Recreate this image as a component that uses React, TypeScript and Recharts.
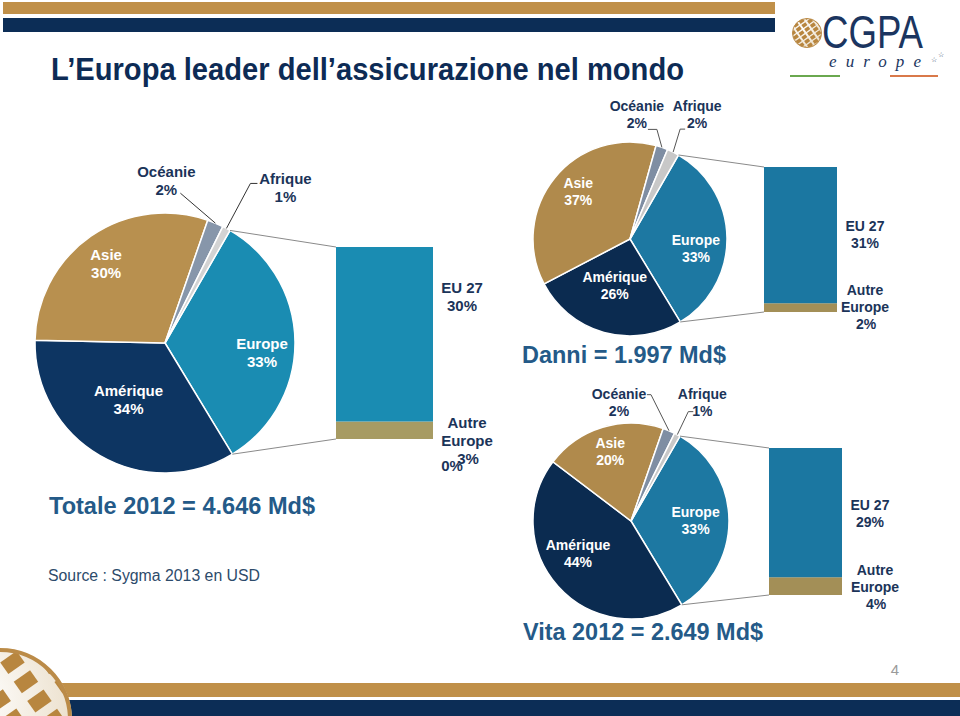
import { PieChart, Pie, Cell, BarChart, Bar, XAxis, YAxis } from "recharts";

// slices, clockwise from the Europe slice
const regions = ["Europe", "Amérique", "Asie", "Océanie", "Afrique"];
const totalShares = [33, 34, 30, 2, 1];
const danniShares = [33, 26, 37, 2, 2];
const vitaShares = [33, 44, 20, 2, 1];

// Europe split, bottom segment first
const europeParts = ["Autre Europe", "EU 27"];
const totalEurope = [3, 30];
const danniEurope = [2, 31];
const vitaEurope = [4, 29];

const NAVY = "#0c2d56";
const GOLD = "#c09049";
const TXT = "#1b3459";
const BIG = "#245a88";

type InCfg = { kind: "in"; dx: number; dy: number };
type OutCfg = { kind: "out"; line: number[][]; tx: number; ty: number };
type LabelCfg = InCfg | OutCfg;

type Panel = {
  key: string;
  shares: number[];
  europe: number[];
  colors: string[];
  barColors: string[];
  box: { left: number; top: number; w: number; h: number };
  cx: number;
  cy: number;
  r: number;
  bar: { left: number; top: number; w: number; h: number };
  labels: LabelCfg[];
  font: number;
  lh: number;
  lineColor: string;
  euLabel: { x: number; y: number };
  autreLabel: { x: number; y: number };
};

const panels: Panel[] = [
  {
    key: "tot",
    shares: totalShares,
    europe: totalEurope,
    colors: ["#1a8cb2", "#0d3562", "#b8904f", "#8796aa", "#d3d3d3"],
    barColors: ["#a79b63", "#1a8cb2"],
    box: { left: 0, top: 150, w: 340, h: 340 },
    cx: 165,
    cy: 193,
    r: 130,
    bar: { left: 336, top: 247, w: 97, h: 192 },
    labels: [
      { kind: "in", dx: 6, dy: 7 },
      { kind: "in", dx: 9, dy: -26 },
      { kind: "in", dx: -7, dy: -8 },
      { kind: "out", line: [[-35, -30]], tx: -49, ty: -46 },
      { kind: "out", line: [[24, -45], [31, -45]], tx: 59, ty: -44 },
    ],
    font: 15,
    lh: 18,
    lineColor: "#333",
    euLabel: { x: 462, y: 293 },
    autreLabel: { x: 467, y: 428 },
  },
  {
    key: "danni",
    shares: danniShares,
    europe: danniEurope,
    colors: ["#1d78a2", "#0b2b50", "#b08a4c", "#7f8ea3", "#c8c8c8"],
    barColors: ["#a38f57", "#1b77a1"],
    box: { left: 520, top: 95, w: 220, h: 250 },
    cx: 110,
    cy: 144,
    r: 97,
    bar: { left: 764, top: 167, w: 73, h: 145 },
    labels: [
      { kind: "in", dx: -2, dy: 7 },
      { kind: "in", dx: 3, dy: -22 },
      { kind: "in", dx: 1, dy: -8 },
      { kind: "out", line: [[-5, -18], [-14, -18]], tx: -25, ty: -36 },
      { kind: "out", line: [[7, -23], [12, -23]], tx: 24, ty: -41 },
    ],
    font: 14,
    lh: 17,
    lineColor: "#555",
    euLabel: { x: 865, y: 231 },
    autreLabel: { x: 865, y: 295 },
  },
  {
    key: "vita",
    shares: vitaShares,
    europe: vitaEurope,
    colors: ["#1d78a2", "#0b2b50", "#b08a4c", "#7f8ea3", "#c8c8c8"],
    barColors: ["#a38f57", "#1b77a1"],
    box: { left: 520, top: 380, w: 220, h: 245 },
    cx: 111,
    cy: 141,
    r: 98,
    bar: { left: 769, top: 448, w: 73, h: 147 },
    labels: [
      { kind: "in", dx: -4, dy: -3 },
      { kind: "in", dx: -2, dy: -17 },
      { kind: "in", dx: -1, dy: -7 },
      { kind: "out", line: [[-18, -36], [-22, -36]], tx: -50, ty: -32 },
      { kind: "out", line: [[11, -23], [16, -23]], tx: 25, ty: -36 },
    ],
    font: 14,
    lh: 17,
    lineColor: "#555",
    euLabel: { x: 870, y: 510 },
    autreLabel: { x: 875, y: 575 },
  },
];

const START = 60;
const RAD = Math.PI / 180;

function midAngles(shares: number[]) {
  const sum = shares.reduce((a, b) => a + b, 0);
  let cum = 0;
  return shares.map((v) => {
    const m = START - (360 * (cum + v / 2)) / sum;
    cum += v;
    return m;
  });
}

function makeLabel(p: Panel) {
  const mids = midAngles(p.shares);
  return (props: any) => {
    const i = props.index;
    const cfg = p.labels[i];
    const cos = Math.cos(mids[i] * RAD);
    const sin = -Math.sin(mids[i] * RAD);
    const name = regions[i];
    const val = p.shares[i] + "%";
    if (cfg.kind === "in") {
      const x = p.cx + p.r * 0.7 * cos + cfg.dx;
      const y = p.cy + p.r * 0.7 * sin + cfg.dy;
      return (
        <text key={"l" + i} textAnchor="middle" fill="#fff" fontSize={p.font} fontWeight="bold" fontFamily="Liberation Sans, Arial">
          <tspan x={x} y={y}>{name}</tspan>
          <tspan x={x} y={y + p.lh}>{val}</tspan>
        </text>
      );
    }
    const ex = p.cx + p.r * cos;
    const ey = p.cy + p.r * sin;
    const pts = [[ex, ey], ...cfg.line.map(([a, b]) => [ex + a, ey + b])];
    const tx = ex + cfg.tx;
    const ty = ey + cfg.ty;
    return (
      <g key={"l" + i}>
        <polyline points={pts.map((q) => q.join(",")).join(" ")} fill="none" stroke={p.lineColor} strokeWidth={1} />
        <text textAnchor="middle" fill={TXT} fontSize={p.font} fontWeight="bold" fontFamily="Liberation Sans, Arial">
          <tspan x={tx} y={ty}>{name}</tspan>
          <tspan x={tx} y={ty + p.lh}>{val}</tspan>
        </text>
      </g>
    );
  };
}

function PiePanel({ p }: { p: Panel }) {
  const data = regions.map((name, i) => ({ name, value: p.shares[i] }));
  return (
    <div style={{ position: "absolute", left: p.box.left, top: p.box.top }}>
      <PieChart width={p.box.w} height={p.box.h} margin={{ top: 0, right: 0, bottom: 0, left: 0 }}>
        <Pie
          data={data}
          dataKey="value"
          nameKey="name"
          cx={p.cx}
          cy={p.cy}
          outerRadius={p.r}
          startAngle={START}
          endAngle={START - 360}
          stroke="#fff"
          strokeWidth={1.5}
          label={makeLabel(p)}
          labelLine={false}
          isAnimationActive={false}
        >
          {data.map((d, i) => (
            <Cell key={d.name} fill={p.colors[i]} />
          ))}
        </Pie>
      </PieChart>
    </div>
  );
}

function BarPanel({ p }: { p: Panel }) {
  const row: any = { name: "Europe" };
  europeParts.forEach((k, i) => (row[k] = p.europe[i]));
  const sum = p.europe.reduce((a, b) => a + b, 0);
  return (
    <div style={{ position: "absolute", left: p.bar.left, top: p.bar.top }}>
      <BarChart width={p.bar.w} height={p.bar.h} data={[row]} margin={{ top: 0, right: 0, bottom: 0, left: 0 }} barCategoryGap={0}>
        <XAxis dataKey="name" hide />
        <YAxis hide domain={[0, sum]} />
        {europeParts.map((k, i) => (
          <Bar key={k} dataKey={k} stackId="e" fill={p.barColors[i]} isAnimationActive={false} />
        ))}
      </BarChart>
    </div>
  );
}

function Globe({ cx, cy, r, id, ring, fill }: { cx: number; cy: number; r: number; id: string; ring: number; fill: number }) {
  const tiles = [];
  const s = r / 2.6;
  for (let i = -4; i <= 4; i++) {
    for (let j = -5; j <= 5; j++) {
      tiles.push(
        <rect key={i + "_" + j} x={cx + i * s * 1.2} y={cy + j * s * 0.85} width={s * fill} height={s * 0.85 * fill - s * 0.1} fill="#b8863f" />
      );
    }
  }
  return (
    <g>
      <defs>
        <clipPath id={id}>
          <circle cx={cx} cy={cy} r={r - ring / 2} />
        </clipPath>
        <radialGradient id={id + "g"} cx="35%" cy="35%" r="75%">
          <stop offset="0%" stopColor="#ffffff" />
          <stop offset="100%" stopColor="#e9dcc6" />
        </radialGradient>
      </defs>
      <circle cx={cx} cy={cy} r={r} fill={`url(#${id}g)`} />
      <g clipPath={`url(#${id})`}>
        <g transform={`rotate(-35 ${cx} ${cy})`}>{tiles}</g>
      </g>
      <circle cx={cx} cy={cy} r={r - ring / 2} fill="none" stroke="#bb8b48" strokeWidth={ring} />
    </g>
  );
}

function Overlay() {
  const ff = "Liberation Sans, Arial, sans-serif";
  const narrow = "Liberation Sans Narrow, Liberation Sans, Arial";
  return (
    <svg width={960} height={716} style={{ position: "absolute", left: 0, top: 0, pointerEvents: "none" }}>
      {/* header */}
      <rect x={3} y={2} width={772} height={12} fill={GOLD} />
      <rect x={3} y={18} width={772} height={14} fill={NAVY} />
      <text x={51} y={80} fontFamily={narrow} fontWeight="bold" fontSize={31} fill="#0d2b55" textLength={633} lengthAdjust="spacingAndGlyphs">
        L’Europa leader dell’assicurazione nel mondo
      </text>

      {/* logo */}
      <Globe cx={807} cy={33} r={15} id="g1" ring={1} fill={0.85} />
      <text x={822} y={48} fontFamily={narrow} fontSize={46} fill="#1b3560" textLength={101} lengthAdjust="spacingAndGlyphs">
        CGPA
      </text>
      <text x={829} y={67} fontFamily="Liberation Serif, serif" fontStyle="italic" fontSize={17} fill="#1b3560" textLength={92} lengthAdjust="spacing">
        europe
      </text>
      <text x={931} y={62} fontFamily="DejaVu Sans" fontSize={7} fill="#1b3560">☆</text>
      <text x={938} y={57} fontFamily="DejaVu Sans" fontSize={7} fill="#1b3560">☆</text>
      <rect x={790} y={75} width={50} height={2} fill="#6aa84f" />
      <rect x={890} y={75} width={48} height={2} fill="#d9794a" />

      {/* connectors */}
      {panels.map((p) => {
        const sum = p.shares.reduce((a, b) => a + b, 0);
        const a1 = START * RAD;
        const a2 = (START - (360 * p.shares[0]) / sum) * RAD;
        const pcx = p.box.left + p.cx;
        const pcy = p.box.top + p.cy;
        return (
          <g key={p.key} stroke="#8a8a8a" strokeWidth={1}>
            <line x1={pcx + p.r * Math.cos(a1)} y1={pcy - p.r * Math.sin(a1)} x2={p.bar.left} y2={p.bar.top} />
            <line x1={pcx + p.r * Math.cos(a2)} y1={pcy - p.r * Math.sin(a2)} x2={p.bar.left} y2={p.bar.top + p.bar.h} />
          </g>
        );
      })}

      {/* bar labels */}
      {panels.map((p) => (
        <g key={p.key + "bl"} fontFamily={ff} fontWeight="bold" fontSize={p.font} fill={TXT} textAnchor="middle">
          <text>
            <tspan x={p.euLabel.x} y={p.euLabel.y}>{europeParts[1]}</tspan>
            <tspan x={p.euLabel.x} y={p.euLabel.y + p.lh}>{p.europe[1]}%</tspan>
          </text>
          <text>
            <tspan x={p.autreLabel.x} y={p.autreLabel.y}>Autre</tspan>
            <tspan x={p.autreLabel.x} y={p.autreLabel.y + p.lh}>Europe</tspan>
            <tspan x={p.autreLabel.x + 1} y={p.autreLabel.y + p.lh * 2 - 0.5}>{p.europe[0]}%</tspan>
          </text>
        </g>
      ))}
      <text x={452} y={471} textAnchor="middle" fontFamily={ff} fontWeight="bold" fontSize={15} fill={TXT}>0%</text>

      {/* totals */}
      <text x={49} y={514} fontFamily={ff} fontWeight="bold" fontSize={23} fill={BIG} textLength={266} lengthAdjust="spacingAndGlyphs">
        Totale 2012 = 4.646 Md$
      </text>
      <text x={48} y={581} fontFamily={ff} fontSize={16} fill="#2d4b6b" textLength={212} lengthAdjust="spacingAndGlyphs">
        Source : Sygma 2013 en USD
      </text>
      <text x={522} y={363} fontFamily={ff} fontWeight="bold" fontSize={23} fill={BIG} textLength={204} lengthAdjust="spacingAndGlyphs">
        Danni = 1.997 Md$
      </text>
      <text x={523} y={640} fontFamily={ff} fontWeight="bold" fontSize={23} fill={BIG} textLength={240} lengthAdjust="spacingAndGlyphs">
        Vita 2012 = 2.649 Md$
      </text>

      {/* footer */}
      <text x={895} y={675} textAnchor="middle" fontFamily={narrow} fontSize={15} fill="#9a9a9a">4</text>
      <rect x={40} y={683} width={920} height={14} fill={GOLD} />
      <rect x={40} y={700} width={920} height={16} fill={NAVY} />
      <Globe cx={0} cy={720} r={72} id="g2" ring={4} fill={0.72} />
    </svg>
  );
}

export default function App() {
  return (
    <div style={{ position: "absolute", left: 0, top: 0, width: 960, height: 716, background: "#fff", overflow: "hidden", fontFamily: "Liberation Sans, Arial, sans-serif" }}>
      {panels.map((p) => (
        <PiePanel key={p.key + "pie"} p={p} />
      ))}
      {panels.map((p) => (
        <BarPanel key={p.key + "bar"} p={p} />
      ))}
      <Overlay />
    </div>
  );
}
